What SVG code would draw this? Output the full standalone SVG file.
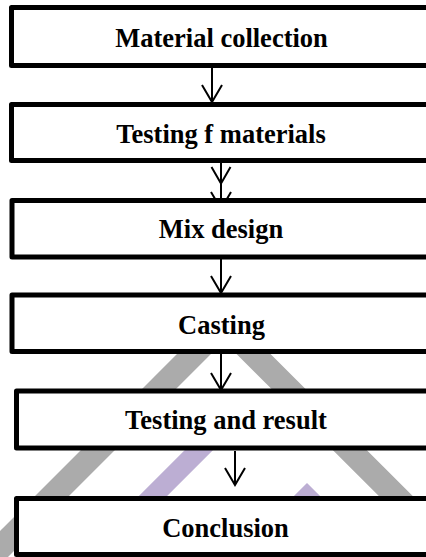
<svg xmlns="http://www.w3.org/2000/svg" width="426" height="557" viewBox="0 0 426 557">
  <defs>
    <style>
      .box { fill: #ffffff; stroke: #000000; stroke-width: 5; stroke-linejoin: round; }
      .lbl { font-family: "Liberation Serif", "Times New Roman", serif; font-weight: bold; font-size: 26.5px; fill: #000000; text-anchor: middle; }
      .conn { stroke: #000000; stroke-width: 2; fill: none; }
      .wm-gray { stroke: #ababab; stroke-width: 24; fill: none; stroke-linejoin: miter; }
      .wm-purple { stroke: #bcaed3; stroke-width: 20; fill: none; stroke-linejoin: miter; }
    </style>
    <marker id="vhead" markerUnits="userSpaceOnUse" markerWidth="24" markerHeight="24" viewBox="-20 -12 24 24" refX="0" refY="0" orient="auto">
      <path d="M-17,-10 L0,0 L-17,10" fill="none" stroke="#000000" stroke-width="2"/>
    </marker>
  </defs>
  <rect x="0" y="0" width="426" height="557" fill="#ffffff"/>

  <g id="watermark">
    <polyline class="wm-gray" points="-20,568 223.75,324.25 470,570"/>
    <line class="wm-purple" x1="239" y1="410" x2="129" y2="520"/>
    <polyline class="wm-purple" points="274,530 307,497.1 340,530"/>
  </g>

  <g id="connectors">
    <line class="conn" x1="212" y1="68" x2="212" y2="102" marker-end="url(#vhead)"/>
    <line class="conn" x1="221" y1="163" x2="221" y2="209" marker-end="url(#vhead)"/>
    <path class="conn" d="M211.5,167 L221,183.5 L230.5,167"/>
    <line class="conn" x1="221" y1="259" x2="221" y2="293" marker-end="url(#vhead)"/>
    <line class="conn" x1="221" y1="354" x2="221" y2="390" marker-end="url(#vhead)"/>
    <line class="conn" x1="235" y1="451" x2="235" y2="485" marker-end="url(#vhead)"/>
  </g>

  <g id="node-material-collection">
    <rect class="box" x="11.5" y="7.5" width="450" height="58"/>
    <text class="lbl" x="221.5" y="46.7">Material collection</text>
  </g>
  <g id="node-testing-materials">
    <rect class="box" x="11.5" y="104.5" width="450" height="56"/>
    <text class="lbl" x="221" y="143.3">Testing f materials</text>
  </g>
  <g id="node-mix-design">
    <rect class="box" x="12" y="200.5" width="450" height="56.5"/>
    <text class="lbl" x="221" y="238.3">Mix design</text>
  </g>
  <g id="node-casting">
    <rect class="box" x="12" y="295" width="450" height="56.5"/>
    <text class="lbl" x="221.5" y="334">Casting</text>
  </g>
  <g id="node-testing-result">
    <rect class="box" x="16.5" y="391" width="450" height="57"/>
    <text class="lbl" x="226" y="428.5">Testing and result</text>
  </g>
  <g id="node-conclusion">
    <rect class="box" x="16.5" y="498.5" width="450" height="56"/>
    <text class="lbl" x="225.5" y="536.7">Conclusion</text>
  </g>
</svg>
